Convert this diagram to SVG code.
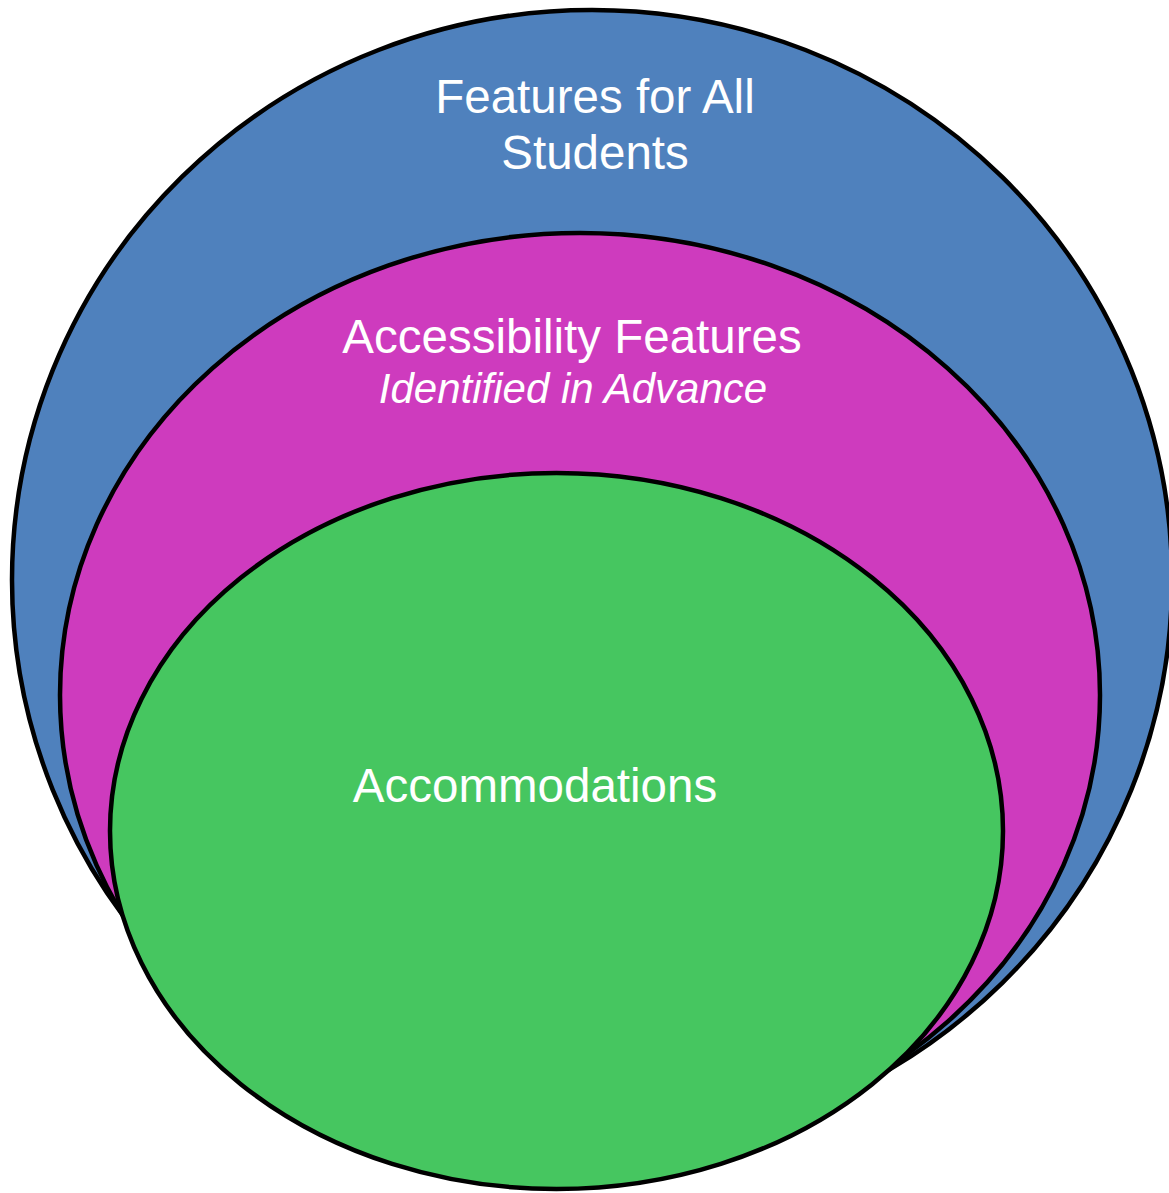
<svg xmlns="http://www.w3.org/2000/svg" width="1169" height="1193" viewBox="0 0 1169 1193">
<style>
.shape{stroke:#000;stroke-width:4.5}
.lbl{font-family:"Liberation Sans",Arial,sans-serif;font-size:47.5px;fill:#fff;text-anchor:middle}
.sub{font-style:italic;font-size:42px}
</style>
<rect width="1169" height="1193" fill="#fff"/>
<g id="node-all">
<ellipse class="shape" cx="592" cy="580" rx="580" ry="570" fill="#4F81BD"/>
<text class="lbl" x="595" y="113">Features for All</text>
<text class="lbl" x="595" y="169">Students</text>
</g>
<g id="node-accessibility">
<ellipse class="shape" cx="580" cy="695" rx="520" ry="462" fill="#CE3BBE"/>
<text class="lbl" x="572" y="353">Accessibility Features</text>
<text class="lbl sub" x="573" y="403">Identified in Advance</text>
</g>
<g id="node-accommodations">
<ellipse class="shape" cx="556.5" cy="831" rx="446.5" ry="358" fill="#46C660"/>
<text class="lbl" x="535" y="802">Accommodations</text>
</g>
<g id="connectors"></g>
</svg>
